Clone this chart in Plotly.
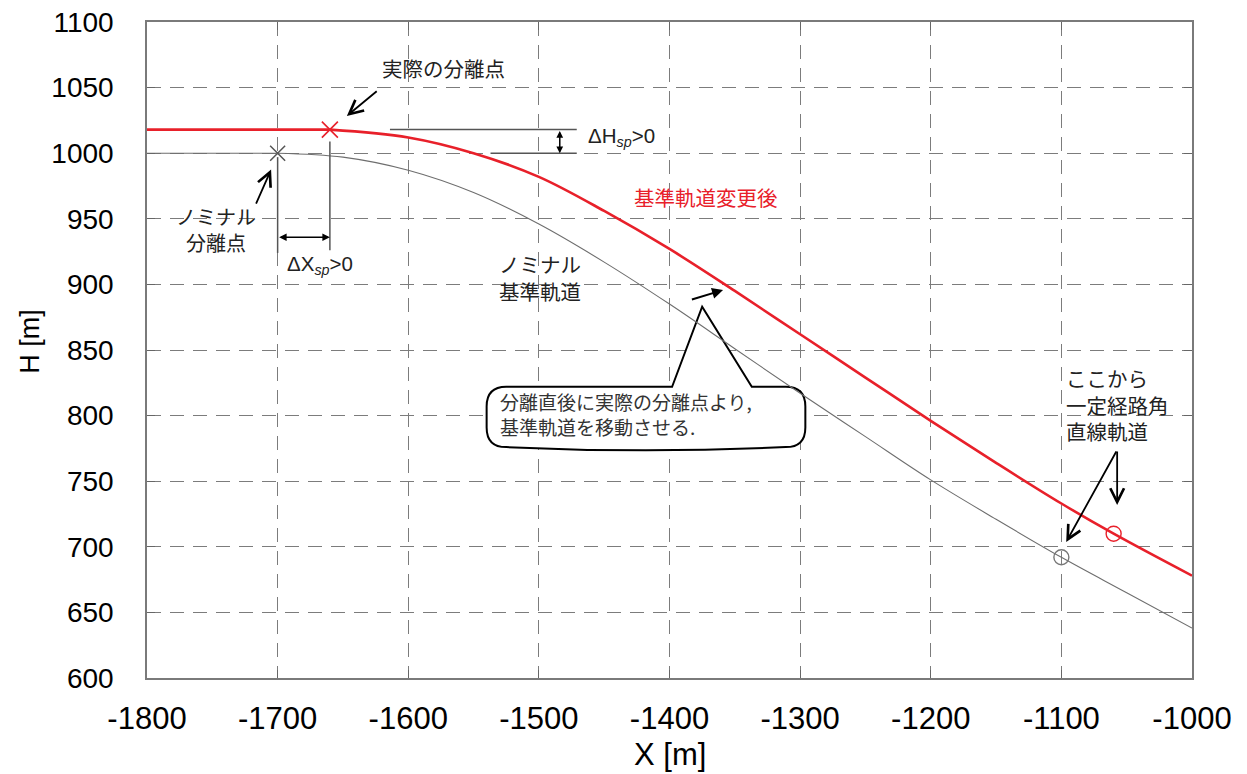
import plotly.graph_objects as go

# Nominal reference trajectory (gray) and the trajectory after moving it to the actual separation point (red)
x_nominal = [-1800, -1700, -1650, -1600, -1550, -1500, -1450, -1400,
             -1350, -1300, -1250, -1200, -1150, -1100, -1050, -1000]
h_nominal = [1000, 1000, 997, 987, 970, 946, 917, 885,
             851, 817, 784, 751, 721, 692, 665, 638]

x_shifted = [-1800, -1660, -1600, -1550, -1500, -1450, -1400,
             -1350, -1300, -1250, -1200, -1150, -1100, -1060, -1000]
h_shifted = [1018, 1018, 1012, 1000, 982, 956, 927,
             895, 862, 829, 796, 764, 733, 710, 678]

# Separation points and start of the constant flight-path-angle segment
x_sep_nominal = -1700
x_sep_actual = -1660
x_fpa_nominal = -1100
x_fpa_shifted = -1060

x_ticks = [-1800, -1700, -1600, -1500, -1400, -1300, -1200, -1100, -1000]
y_ticks = [600, 650, 700, 750, 800, 850, 900, 950, 1000, 1050, 1100]

RED = "#e8202a"
GRAY = "#6e6e6e"
JP = "Noto Sans CJK JP"
LAT = "Liberation Sans"

i_sep_nom = x_nominal.index(x_sep_nominal)
i_sep_act = x_shifted.index(x_sep_actual)
h_sep_nominal = h_nominal[i_sep_nom]
h_sep_actual = h_shifted[i_sep_act]
h_fpa_nominal = h_nominal[x_nominal.index(x_fpa_nominal)]
h_fpa_shifted = h_shifted[x_shifted.index(x_fpa_shifted)]

fig = go.Figure()


def trajectory(xs, hs, i_split, color, width):
    # level flight up to the separation point, smooth descent after it
    fig.add_trace(go.Scatter(x=xs[:i_split + 1], y=hs[:i_split + 1], mode="lines",
                             line=dict(color=color, width=width), hoverinfo="skip"))
    fig.add_trace(go.Scatter(x=xs[i_split:], y=hs[i_split:], mode="lines",
                             line=dict(color=color, width=width, shape="spline", smoothing=1.0),
                             hoverinfo="skip"))


trajectory(x_nominal, h_nominal, i_sep_nom, GRAY, 1.1)
trajectory(x_shifted, h_shifted, i_sep_act, RED, 2.6)

# separation point markers
fig.add_trace(go.Scatter(x=[x_sep_nominal], y=[h_sep_nominal], mode="markers",
                         marker=dict(symbol="x-thin", size=15, color="#555555",
                                     line=dict(width=1.5, color="#555555"))))
fig.add_trace(go.Scatter(x=[x_sep_actual], y=[h_sep_actual], mode="markers",
                         marker=dict(symbol="x-thin", size=16, color=RED,
                                     line=dict(width=1.6, color=RED))))
# start of straight-line segment markers
fig.add_trace(go.Scatter(x=[x_fpa_nominal], y=[h_fpa_nominal], mode="markers",
                         marker=dict(symbol="circle-open", size=15, color="#777777",
                                     line=dict(width=1.4))))
fig.add_trace(go.Scatter(x=[x_fpa_shifted], y=[h_fpa_shifted], mode="markers",
                         marker=dict(symbol="circle-open", size=15, color=RED,
                                     line=dict(width=1.4))))


def arrow(xh, yh, xt, yt, head=5, width=1.8, size=1.0, side="end"):
    return dict(x=xh, y=yh, ax=xt, ay=yt, xref="x", yref="y", axref="x", ayref="y",
                text="", showarrow=True, arrowhead=head, startarrowhead=head,
                arrowsize=size, arrowwidth=width, arrowcolor="black",
                arrowside=side, standoff=0, startstandoff=0)


def label(x, y, text, size=20, color="#222222", xanchor="center", align="center", family=JP):
    return dict(x=x, y=y, xref="x", yref="y", text=text, showarrow=False,
                xanchor=xanchor, yanchor="middle", align=align,
                font=dict(family=family, size=size, color=color))


annotations = [
    label(-1573, 1065, "実際の分離点", size=20.5),
    arrow(-1647, 1028.4, -1623, 1048.2, head=5, width=1.8, size=1.5),
    label(-1747, 942, "ノミナル<br>分離点", size=20),
    arrow(-1705, 987.5, -1717, 960.5, head=5, width=1.8, size=1.5),
    arrow(x_sep_actual, 936, x_sep_nominal, 936, head=2, width=1.5, size=1.0, side="end+start"),
    label(-1694, 915, "ΔX<sub><i>sp</i></sub>&gt;0", size=20.5, color="#222222",
          xanchor="left", family=LAT),
    arrow(-1484, h_sep_nominal, -1484, h_sep_actual, head=2, width=1.5, size=0.9, side="end+start"),
    label(-1464, 1012, "ΔH<sub><i>sp</i></sub>&gt;0", size=20.5, color="#222222",
          xanchor="left", family=LAT),
    label(-1372, 967, "基準軌道変更後", size=20.5, color=RED),
    label(-1532, 905, "ノミナル<br>基準軌道", size=20.5, xanchor="left", align="left"),
    arrow(-1359, 895.7, -1384, 888.1, head=2, width=2.0, size=1.1),
    label(-1531, 801.5, "分離直後に実際の分離点より,<br>基準軌道を移動させる.", size=19,
          color="#333333", xanchor="left", align="left"),
    label(-1098, 808.5, "ここから<br>一定経路角<br>直線軌道", size=20.5, xanchor="left", align="left"),
    arrow(-1096.3, 703.7, -1057.3, 773.8, head=5, width=1.8, size=1.5),
    arrow(-1057.3, 731.9, -1057.3, 773.8, head=5, width=1.8, size=1.5),
    # axis titles
    dict(x=-0.112, y=0.514, xref="paper", yref="paper", text="H [m]", showarrow=False,
         textangle=-90, xanchor="center", yanchor="middle",
         font=dict(family=LAT, size=27, color="black")),
    dict(x=0.5, y=-0.117, xref="paper", yref="paper", text="X [m]", showarrow=False,
         xanchor="center", yanchor="middle",
         font=dict(family=LAT, size=31, color="black")),
]

LINE = dict(color="#555555", width=1.5)
shapes = [
    # ΔX reference verticals
    dict(type="line", xref="x", yref="y", x0=x_sep_nominal, x1=x_sep_nominal, y0=997, y1=924, line=LINE),
    dict(type="line", xref="x", yref="y", x0=x_sep_actual, x1=x_sep_actual, y0=1009, y1=926, line=LINE),
    # ΔH reference horizontals
    dict(type="line", xref="x", yref="y", x0=-1614, x1=-1471, y0=h_sep_actual, y1=h_sep_actual, line=LINE),
    dict(type="line", xref="x", yref="y", x0=-1537, x1=-1471, y0=h_sep_nominal, y1=h_sep_nominal, line=LINE),
]

# speech bubble with pointer
L, R, T, B = -1540, -1296, 822, 776
rx, ry = 15, 15
apx, apy = -1375, 883
bl, br = -1398, -1337
bubble = (f"M {bl},{T} L {apx},{apy} L {br},{T} L {R-rx},{T} Q {R},{T} {R},{T-ry} "
          f"L {R},{B+ry} Q {R},{B} {R-rx},{B} Q {(L+R)/2},{B-5} {L+rx},{B} Q {L},{B} {L},{B+ry} "
          f"L {L},{T-ry} Q {L},{T} {L+rx},{T} Z")
shapes.append(dict(type="path", xref="x", yref="y", path=bubble, layer="between",
                   fillcolor="white", line=dict(color="black", width=2)))

axis_common = dict(showgrid=True, gridcolor="#7c7c7c", gridwidth=1.4, griddash="14px,9px",
                   showline=True, linecolor="#7a7a7a", linewidth=1.5, mirror="ticks",
                   ticks="inside", ticklen=8, tickcolor="#666666", tickwidth=1.2,
                   zeroline=False, automargin=False)

fig.update_layout(
    width=1247, height=774,
    margin=dict(l=147, r=55, t=22, b=96),
    paper_bgcolor="white", plot_bgcolor="white",
    showlegend=False,
    xaxis=dict(range=[-1800, -1000], tickvals=x_ticks, ticktext=[str(v) for v in x_ticks],
               tickfont=dict(family=LAT, size=31, color="black"), ticklabelstandoff=12,
               **axis_common),
    yaxis=dict(range=[600, 1100], tickvals=y_ticks, ticktext=[str(v) for v in y_ticks],
               tickfont=dict(family=LAT, size=28, color="black"), ticklabelstandoff=26,
               **axis_common),
    annotations=annotations,
    shapes=shapes,
)

fig.write_html("out.html")
